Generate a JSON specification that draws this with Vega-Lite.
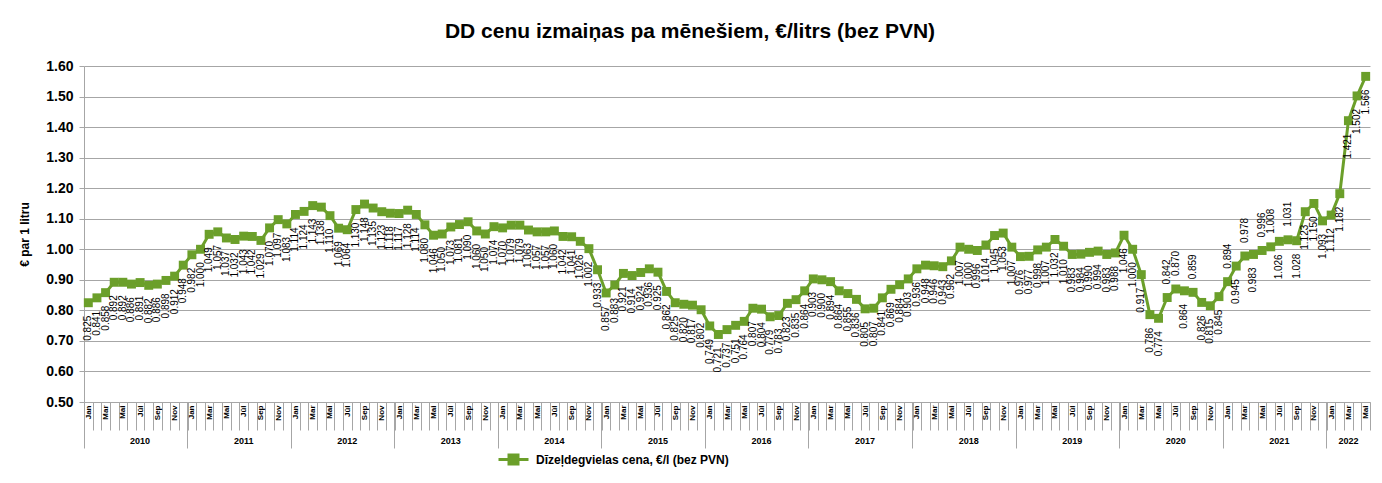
{
  "$schema": "https://vega.github.io/schema/vega-lite/v6.json",
  "width": 1286,
  "height": 336,
  "autosize": "none",
  "padding": {"left": 84, "top": 66, "right": 12, "bottom": 81},
  "background": "white",
  "config": {
    "view": {"stroke": null},
    "font": "Liberation Sans"
  },
  "title": {
    "text": "DD cenu izmaiņas pa mēnešiem, €/litrs (bez PVN)",
    "fontSize": 21,
    "fontWeight": "bold",
    "color": "#000000",
    "dx": -37,
    "offset": 17
  },
  "data": {
    "values": [
      {"m": "2010-01", "v": 0.825}, {"m": "2010-02", "v": 0.841}, {"m": "2010-03", "v": 0.858}, {"m": "2010-04", "v": 0.892},
      {"m": "2010-05", "v": 0.892}, {"m": "2010-06", "v": 0.886}, {"m": "2010-07", "v": 0.891}, {"m": "2010-08", "v": 0.882},
      {"m": "2010-09", "v": 0.886}, {"m": "2010-10", "v": 0.898}, {"m": "2010-11", "v": 0.912}, {"m": "2010-12", "v": 0.948},
      {"m": "2011-01", "v": 0.982}, {"m": "2011-02", "v": 1.000}, {"m": "2011-03", "v": 1.049}, {"m": "2011-04", "v": 1.057},
      {"m": "2011-05", "v": 1.037}, {"m": "2011-06", "v": 1.032}, {"m": "2011-07", "v": 1.043}, {"m": "2011-08", "v": 1.042},
      {"m": "2011-09", "v": 1.029}, {"m": "2011-10", "v": 1.070}, {"m": "2011-11", "v": 1.097}, {"m": "2011-12", "v": 1.083},
      {"m": "2012-01", "v": 1.114}, {"m": "2012-02", "v": 1.124}, {"m": "2012-03", "v": 1.143}, {"m": "2012-04", "v": 1.138},
      {"m": "2012-05", "v": 1.110}, {"m": "2012-06", "v": 1.069}, {"m": "2012-07", "v": 1.064}, {"m": "2012-08", "v": 1.130},
      {"m": "2012-09", "v": 1.148}, {"m": "2012-10", "v": 1.135}, {"m": "2012-11", "v": 1.123}, {"m": "2012-12", "v": 1.118},
      {"m": "2013-01", "v": 1.117}, {"m": "2013-02", "v": 1.128}, {"m": "2013-03", "v": 1.114}, {"m": "2013-04", "v": 1.080},
      {"m": "2013-05", "v": 1.046}, {"m": "2013-06", "v": 1.050}, {"m": "2013-07", "v": 1.073}, {"m": "2013-08", "v": 1.081},
      {"m": "2013-09", "v": 1.090}, {"m": "2013-10", "v": 1.060}, {"m": "2013-11", "v": 1.050}, {"m": "2013-12", "v": 1.074},
      {"m": "2014-01", "v": 1.070}, {"m": "2014-02", "v": 1.079}, {"m": "2014-03", "v": 1.079}, {"m": "2014-04", "v": 1.063},
      {"m": "2014-05", "v": 1.057}, {"m": "2014-06", "v": 1.057}, {"m": "2014-07", "v": 1.060}, {"m": "2014-08", "v": 1.042},
      {"m": "2014-09", "v": 1.041}, {"m": "2014-10", "v": 1.026}, {"m": "2014-11", "v": 1.002}, {"m": "2014-12", "v": 0.933},
      {"m": "2015-01", "v": 0.857}, {"m": "2015-02", "v": 0.883}, {"m": "2015-03", "v": 0.921}, {"m": "2015-04", "v": 0.914},
      {"m": "2015-05", "v": 0.924}, {"m": "2015-06", "v": 0.936}, {"m": "2015-07", "v": 0.925}, {"m": "2015-08", "v": 0.862},
      {"m": "2015-09", "v": 0.825}, {"m": "2015-10", "v": 0.820}, {"m": "2015-11", "v": 0.817}, {"m": "2015-12", "v": 0.802},
      {"m": "2016-01", "v": 0.749}, {"m": "2016-02", "v": 0.721}, {"m": "2016-03", "v": 0.737}, {"m": "2016-04", "v": 0.751},
      {"m": "2016-05", "v": 0.764}, {"m": "2016-06", "v": 0.807}, {"m": "2016-07", "v": 0.804}, {"m": "2016-08", "v": 0.779},
      {"m": "2016-09", "v": 0.783}, {"m": "2016-10", "v": 0.823}, {"m": "2016-11", "v": 0.835}, {"m": "2016-12", "v": 0.864},
      {"m": "2017-01", "v": 0.903}, {"m": "2017-02", "v": 0.900}, {"m": "2017-03", "v": 0.894}, {"m": "2017-04", "v": 0.864},
      {"m": "2017-05", "v": 0.855}, {"m": "2017-06", "v": 0.836}, {"m": "2017-07", "v": 0.805}, {"m": "2017-08", "v": 0.807},
      {"m": "2017-09", "v": 0.841}, {"m": "2017-10", "v": 0.869}, {"m": "2017-11", "v": 0.884}, {"m": "2017-12", "v": 0.903},
      {"m": "2018-01", "v": 0.936}, {"m": "2018-02", "v": 0.948}, {"m": "2018-03", "v": 0.946}, {"m": "2018-04", "v": 0.943},
      {"m": "2018-05", "v": 0.962}, {"m": "2018-06", "v": 1.007}, {"m": "2018-07", "v": 1.000}, {"m": "2018-08", "v": 0.996},
      {"m": "2018-09", "v": 1.014}, {"m": "2018-10", "v": 1.045}, {"m": "2018-11", "v": 1.053}, {"m": "2018-12", "v": 1.007},
      {"m": "2019-01", "v": 0.976}, {"m": "2019-02", "v": 0.977}, {"m": "2019-03", "v": 0.998}, {"m": "2019-04", "v": 1.007},
      {"m": "2019-05", "v": 1.032}, {"m": "2019-06", "v": 1.010}, {"m": "2019-07", "v": 0.983}, {"m": "2019-08", "v": 0.984},
      {"m": "2019-09", "v": 0.990}, {"m": "2019-10", "v": 0.994}, {"m": "2019-11", "v": 0.983}, {"m": "2019-12", "v": 0.988},
      {"m": "2020-01", "v": 1.046}, {"m": "2020-02", "v": 1.000}, {"m": "2020-03", "v": 0.917}, {"m": "2020-04", "v": 0.786},
      {"m": "2020-05", "v": 0.774}, {"m": "2020-06", "v": 0.842}, {"m": "2020-07", "v": 0.870}, {"m": "2020-08", "v": 0.864},
      {"m": "2020-09", "v": 0.859}, {"m": "2020-10", "v": 0.826}, {"m": "2020-11", "v": 0.815}, {"m": "2020-12", "v": 0.845},
      {"m": "2021-01", "v": 0.894}, {"m": "2021-02", "v": 0.945}, {"m": "2021-03", "v": 0.978}, {"m": "2021-04", "v": 0.983},
      {"m": "2021-05", "v": 0.996}, {"m": "2021-06", "v": 1.008}, {"m": "2021-07", "v": 1.026}, {"m": "2021-08", "v": 1.031},
      {"m": "2021-09", "v": 1.028}, {"m": "2021-10", "v": 1.123}, {"m": "2021-11", "v": 1.150}, {"m": "2021-12", "v": 1.093},
      {"m": "2022-01", "v": 1.112}, {"m": "2022-02", "v": 1.182}, {"m": "2022-03", "v": 1.421}, {"m": "2022-04", "v": 1.502},
      {"m": "2022-05", "v": 1.566}
    ]
  },
  "layer": [
    {
      "mark": {"type": "line", "strokeWidth": 3},
      "encoding": {
        "x": {
          "field": "m", "type": "ordinal",
          "scale": {"type": "band", "paddingInner": 0, "paddingOuter": 0},
          "axis": {
            "orient": "bottom",
            "title": null,
            "tickBand": "extent",
            "tickSize": 28,
            "tickColor": "#a6a6a6",
            "domainColor": "#a6a6a6",
            "labelAngle": 270,
            "labelAlign": "right",
            "labelBaseline": "middle",
            "labelPadding": -25,
            "labelFontSize": 8,
            "labelFontWeight": "bold",
            "labelColor": "#000000",
            "labelOverlap": false,
            "labelExpr": "['Jan','','Mar','','Mai','','Jūl','','Sep','','Nov',''][toNumber(substring(datum.value,5,7))-1]"
          }
        },
        "y": {
          "field": "v", "type": "quantitative",
          "scale": {"domain": [0.5, 1.6], "zero": false, "nice": false},
          "axis": {
            "title": "€ par 1 litru",
            "titleFontSize": 12,
            "titleFontWeight": "bold",
            "titleColor": "#000000",
            "titlePadding": 14,
            "values": [0.5, 0.6, 0.7, 0.8, 0.9, 1.0, 1.1, 1.2, 1.3, 1.4, 1.5, 1.6],
            "tickCount": 12,
            "labelOverlap": false,
            "format": ".2f",
            "labelFontSize": 14,
            "labelFontWeight": "bold",
            "labelColor": "#000000",
            "labelPadding": 6,
            "tickSize": 5,
            "tickColor": "#a6a6a6",
            "domainColor": "#a6a6a6",
            "gridColor": "#a6a6a6",
            "grid": true
          }
        },
        "color": {
          "datum": "Dīzeļdegvielas cena, €/l (bez PVN)",
          "type": "nominal",
          "scale": {"range": ["#6b9f2a"]},
          "legend": {
            "title": null,
            "orient": "none",
            "legendX": 413,
            "legendY": 377,
            "labelFontSize": 12,
            "labelFontWeight": "bold",
            "labelColor": "#000000",
            "labelLimit": 400,
            "symbolType": "M-1,0H1M-0.3,-0.3H0.3V0.3H-0.3Z",
            "symbolSize": 900,
            "symbolStrokeWidth": 3,
            "symbolFillColor": "#6b9f2a",
            "symbolStrokeColor": "#6b9f2a",
            "labelOffset": 6
          }
        }
      }
    },
    {
      "mark": {"type": "point", "shape": "square", "filled": true, "size": 80, "opacity": 1},
      "encoding": {
        "x": {"field": "m", "type": "ordinal", "axis": null},
        "y": {"field": "v", "type": "quantitative"},
        "color": {"datum": "Dīzeļdegvielas cena, €/l (bez PVN)", "type": "nominal"}
      }
    },
    {
      "transform": [{"filter": {"not": {"field": "m", "oneOf": ["2020-06", "2020-07", "2020-09", "2021-01", "2021-03", "2021-05", "2021-06", "2021-08"]}}}],
      "mark": {"type": "text", "angle": 270, "align": "right", "baseline": "middle", "dx": -13, "fontSize": 10, "color": "#000000"},
      "encoding": {
        "x": {"field": "m", "type": "ordinal", "axis": null},
        "y": {"field": "v", "type": "quantitative"},
        "text": {"field": "v", "type": "quantitative", "format": ".3f"}
      }
    },
    {
      "transform": [{"filter": {"field": "m", "oneOf": ["2020-06", "2020-07", "2020-09", "2021-01", "2021-03", "2021-05", "2021-06", "2021-08"]}}],
      "mark": {"type": "text", "angle": 270, "align": "left", "baseline": "middle", "dx": 13, "fontSize": 10, "color": "#000000"},
      "encoding": {
        "x": {"field": "m", "type": "ordinal", "axis": null},
        "y": {"field": "v", "type": "quantitative"},
        "text": {"field": "v", "type": "quantitative", "format": ".3f"}
      }
    },
    {
      "mark": {"type": "point", "opacity": 0},
      "encoding": {
        "x": {
          "field": "m", "type": "ordinal",
          "axis": {
            "orient": "bottom",
            "title": null,
            "values": ["2010-01", "2011-01", "2012-01", "2013-01", "2014-01", "2015-01", "2016-01", "2017-01", "2018-01", "2019-01", "2020-01", "2021-01", "2022-01"],
            "bandPosition": 0,
            "tickSize": 46,
            "tickColor": "#a6a6a6",
            "labels": false,
            "domain": false
          }
        }
      }
    },
    {
      "mark": {"type": "point", "opacity": 0},
      "encoding": {
        "x": {
          "field": "m", "type": "ordinal",
          "axis": {
            "orient": "bottom",
            "title": null,
            "values": ["2010-07", "2011-07", "2012-07", "2013-07", "2014-07", "2015-07", "2016-07", "2017-07", "2018-07", "2019-07", "2020-07", "2021-07", "2022-03"],
            "bandPosition": 0,
            "ticks": false,
            "domain": false,
            "labelAngle": 0,
            "labelAlign": "center",
            "labelBaseline": "top",
            "labelPadding": 34,
            "labelFontSize": 9,
            "labelFontWeight": "bold",
            "labelColor": "#000000",
            "labelOverlap": false,
            "labelExpr": "substring(datum.value,0,4)"
          }
        }
      }
    }
  ],
  "resolve": {"axis": {"x": "independent"}}
}
